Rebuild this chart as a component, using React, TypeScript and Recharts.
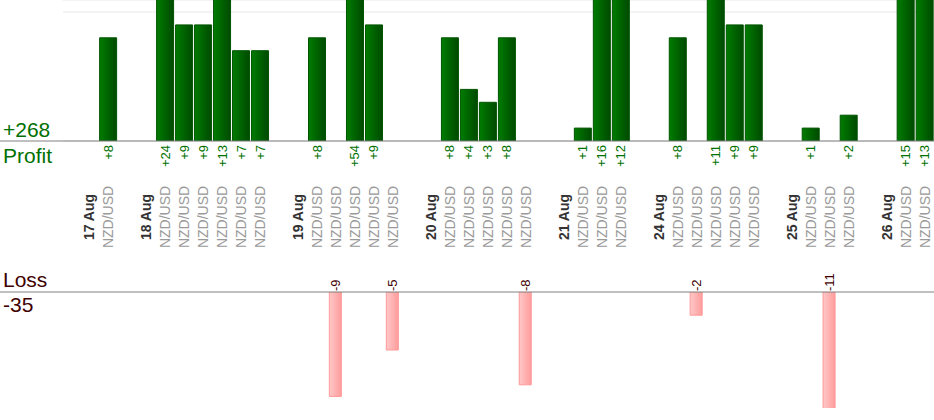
import React from 'react';
import { BarChart, Bar, XAxis, YAxis, CartesianGrid, LabelList } from 'recharts';

// one slot per column on the x axis: a date header, a trade, or an empty spacer
const slotLabels = [
  '17 Aug', 'NZD/USD', '',
  '18 Aug', 'NZD/USD', 'NZD/USD', 'NZD/USD', 'NZD/USD', 'NZD/USD', 'NZD/USD', '',
  '19 Aug', 'NZD/USD', 'NZD/USD', 'NZD/USD', 'NZD/USD', 'NZD/USD', '',
  '20 Aug', 'NZD/USD', 'NZD/USD', 'NZD/USD', 'NZD/USD', 'NZD/USD', '',
  '21 Aug', 'NZD/USD', 'NZD/USD', 'NZD/USD', '',
  '24 Aug', 'NZD/USD', 'NZD/USD', 'NZD/USD', 'NZD/USD', 'NZD/USD', '',
  '25 Aug', 'NZD/USD', 'NZD/USD', 'NZD/USD', '',
  '26 Aug', 'NZD/USD', 'NZD/USD',
];

const profitValues = [
  null, 8, null,
  null, 24, 9, 9, 13, 7, 7, null,
  null, 8, null, 54, 9, null, null,
  null, 8, 4, 3, 8, null, null,
  null, 1, 16, 12, null,
  null, 8, null, 11, 9, 9, null,
  null, 1, null, 2, null,
  null, 15, 13,
];

const lossValues = [
  null, null, null,
  null, null, null, null, null, null, null, null,
  null, null, 9, null, null, 5, null,
  null, null, null, null, null, 8, null,
  null, null, null, null, null,
  null, null, 2, null, null, null, null,
  null, null, 11, null, null,
  null, null, null,
];

const data = slotLabels.map((label, i) => ({
  id: i,
  label,
  profit: profitValues[i],
  loss: lossValues[i],
}));

const totalProfit = profitValues.reduce((s: number, v) => s + (v ?? 0), 0);
const totalLoss = lossValues.reduce((s: number, v) => s + (v ?? 0), 0);

const FONT = '"Liberation Sans", Arial, sans-serif';
const GREEN = '#007000';
const MAROON = '#400000';

const SlotTick = (props: any) => {
  const { x, y, payload } = props;
  const label = slotLabels[payload.value];
  if (!label) return null;
  const isDate = label !== 'NZD/USD';
  return (
    <text
      transform={`translate(${x + 5},${y + 76}) rotate(-90)`}
      textAnchor="middle"
      fontFamily={FONT}
      fontSize={14}
      fontWeight={isDate ? 'bold' : 'normal'}
      fill={isDate ? '#333' : '#999'}
    >
      {label}
    </text>
  );
};

const ProfitLabel = (props: any) => {
  const { x, y, width, height, value } = props;
  if (value == null) return null;
  const bottom = Math.max(y, y + height);
  return (
    <text
      transform={`translate(${x + width / 2 + 4.5},${bottom + 4}) rotate(-90)`}
      textAnchor="end"
      fontFamily={FONT}
      fontSize={13}
      fill={GREEN}
    >
      {'+' + value}
    </text>
  );
};

const LossLabel = (props: any) => {
  const { x, y, width, height, value } = props;
  if (value == null) return null;
  const top = Math.min(y, y + height);
  return (
    <text
      transform={`translate(${x + width / 2 + 4.5},${top - 1}) rotate(-90)`}
      textAnchor="start"
      fontFamily={FONT}
      fontSize={13}
      fill={MAROON}
    >
      {'-' + value}
    </text>
  );
};

export default function App() {
  return (
    <div style={{ position: 'absolute', left: 0, top: 0, width: 934, height: 420, background: '#fff' }}>
      <div style={{ position: 'absolute', left: 0, top: 0 }}>
        <BarChart width={934} height={260} data={data} margin={{ top: 0, right: 0, bottom: 0, left: 0 }} barCategoryGap="6%">
          <defs>
            <linearGradient id="profitFill" x1="0" y1="0" x2="1" y2="0">
              <stop offset="0%" stopColor="#007c00" />
              <stop offset="100%" stopColor="#004a00" />
            </linearGradient>
          </defs>
          <CartesianGrid horizontal vertical={false} stroke="#e8e8e8" x={63} width={871} />
          <XAxis
            dataKey="id"
            type="category"
            height={119}
            padding={{ left: 79.5, right: 0 }}
            interval={0}
            tickLine={false}
            tickSize={0}
            tickMargin={0}
            axisLine={{ stroke: '#808080' }}
            tick={<SlotTick />}
          />
          <YAxis hide domain={[0, 10.93]} ticks={[10]} allowDataOverflow />
          <Bar dataKey="profit" fill="url(#profitFill)" stroke="#005400" strokeWidth={1} isAnimationActive={false}>
            <LabelList dataKey="profit" content={<ProfitLabel />} />
          </Bar>
        </BarChart>
      </div>
      <div style={{ position: 'absolute', left: 0, top: 260 }}>
        <BarChart width={934} height={160} data={data} margin={{ top: 0, right: 0, bottom: 12, left: 0 }} barSize={12}>
          <defs>
            <linearGradient id="lossFill" x1="0" y1="0" x2="1" y2="0">
              <stop offset="0%" stopColor="#ffc8c8" />
              <stop offset="100%" stopColor="#ff9c9c" />
            </linearGradient>
          </defs>
          <XAxis
            dataKey="id"
            type="category"
            orientation="top"
            height={32}
            padding={{ left: 79.5, right: 0 }}
            interval={0}
            tick={false}
            tickLine={false}
            axisLine={{ stroke: '#808080' }}
          />
          <YAxis hide reversed domain={[0, 10]} allowDataOverflow />
          <Bar dataKey="loss" fill="url(#lossFill)" stroke="#ff9999" strokeWidth={1} isAnimationActive={false}>
            <LabelList dataKey="loss" content={<LossLabel />} />
          </Bar>
        </BarChart>
      </div>
      <svg width={100} height={420} style={{ position: 'absolute', left: 0, top: 0, pointerEvents: 'none' }}>
        <text x={3} y={137} fontFamily={FONT} fontSize={21} fill={GREEN}>{'+' + totalProfit}</text>
        <text x={3} y={163} fontFamily={FONT} fontSize={21} fill={GREEN}>Profit</text>
        <text x={3} y={287} fontFamily={FONT} fontSize={21} fill={MAROON}>Loss</text>
        <text x={3} y={312} fontFamily={FONT} fontSize={21} fill={MAROON}>{'-' + totalLoss}</text>
      </svg>
    </div>
  );
}
